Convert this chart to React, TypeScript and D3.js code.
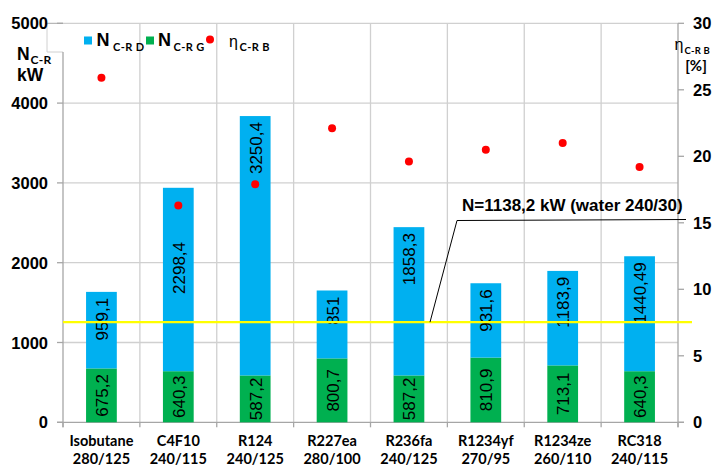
import React from "react";
import * as d3 from "d3";

const categories = ["Isobutane", "C4F10", "R124", "R227ea", "R236fa", "R1234yf", "R1234ze", "RC318"];
const conditions = ["280/125", "240/115", "240/125", "280/100", "240/125", "270/95", "260/110", "240/115"];
const nG = [675.2, 640.3, 587.2, 800.7, 587.2, 810.9, 713.1, 640.3];
const nD = [959.1, 2298.4, 3250.4, 851, 1858.3, 931.6, 1183.9, 1440.49];
const nDLabels = ["959,1", "2298,4", "3250,4", "851", "1858,3", "931,6", "1183,9", "1440,49"];
const nGLabels = ["675,2", "640,3", "587,2", "800,7", "587,2", "810,9", "713,1", "640,3"];
const eta = [25.9, 16.3, 17.9, 22.1, 19.6, 20.5, 21.0, 19.2];
const leftTicks = [0, 1000, 2000, 3000, 4000, 5000];
const rightTicks = [0, 5, 10, 15, 20, 25, 30];
const waterLine = 1255;
const waterLabel = "N=1138,2 kW (water 240/30)";
// value at which the top of the D label sits (null -> inside end)
const dLabelTop: (number | null)[] = [null, 2260, null, null, null, null, null, null];

const W = 714, H = 467;
const L = 63, R = 678, T = 23.3, B = 422.3;

export default function App() {
  const x = d3.scaleBand<string>().domain(categories).range([L, R]).padding(0);
  const yL = d3.scaleLinear().domain([0, 5000]).range([B, T]);
  const yR = d3.scaleLinear().domain([0, 30]).range([B, T]);
  const bw = x.bandwidth() * 0.4;
  const grid = "#d0d0d0";
  const axis = "#a6a6a6";
  const arial = "'Liberation Sans', Arial, sans-serif";
  const cal = "Lato, 'Open Sans', sans-serif";
  const boundaries = categories.map((c) => x(c)!).concat([R]);

  return (
    <svg width={W} height={H} style={{ position: "absolute", left: 0, top: 0, background: "#fff" }}>
      <rect width={W} height={H} fill="#fff" />
      {leftTicks.filter((t) => t > 0).map((t) => (
        <line key={"hg" + t} x1={L} x2={R} y1={yL(t)} y2={yL(t)} stroke={grid} strokeWidth={1.3} />
      ))}
      {boundaries.slice(1, -1).map((bx, i) => (
        <line key={"vg" + i} x1={bx} x2={bx} y1={T} y2={B} stroke={grid} strokeWidth={1.3} />
      ))}
      <path d={`M${L - 16},${T} L${L - 16},${52} L${L},${52}`} fill="none" stroke={grid} strokeWidth={1} />
      <line x1={L} x2={L} y1={52} y2={B + 5} stroke={axis} strokeWidth={1.3} />
      <line x1={R} x2={R} y1={T} y2={B + 5} stroke={axis} strokeWidth={1.3} />
      <line x1={L - 18} x2={L} y1={T} y2={T} stroke={axis} strokeWidth={1} />
      <line x1={L - 6} x2={R + 6} y1={B} y2={B} stroke={axis} strokeWidth={1.3} />
      {leftTicks.map((t) => (
        <g key={"lt" + t}>
          <line x1={L - 6} x2={L} y1={yL(t)} y2={yL(t)} stroke={axis} strokeWidth={1.3} />
          <text x={48} y={yL(t) + 6} textAnchor="end" fontFamily={arial} fontWeight="bold" fontSize={16.5} fill="#000">{t}</text>
        </g>
      ))}
      {rightTicks.map((t) => (
        <g key={"rt" + t}>
          <line x1={R} x2={R + 6} y1={yR(t)} y2={yR(t)} stroke={axis} strokeWidth={1.3} />
          <text x={693} y={yR(t) + 6} textAnchor="start" fontFamily={arial} fontWeight="bold" fontSize={16.5} fill="#000">{t}</text>
        </g>
      ))}
      {boundaries.map((bx, i) => (
        <line key={"bt" + i} x1={bx} x2={bx} y1={B} y2={B + 5} stroke={axis} strokeWidth={1.3} />
      ))}
      {categories.map((c, i) => {
        const cx = x(c)! + x.bandwidth() / 2;
        const top = nG[i] + nD[i];
        const dTopY = dLabelTop[i] != null ? yL(dLabelTop[i]!) : yL(top) + 6;
        const gMid = (yL(0) + yL(nG[i])) / 2;
        return (
          <g key={c}>
            <rect x={cx - bw / 2} width={bw} y={yL(nG[i])} height={yL(0) - yL(nG[i])} fill="#00B050" />
            <rect x={cx - bw / 2} width={bw} y={yL(top)} height={yL(nG[i]) - yL(top)} fill="#00B0F0" />
            <text transform={`translate(${cx + 1},${dTopY}) rotate(-90)`} textAnchor="end" dominantBaseline="central"
              fontFamily={arial} fontSize={17} fill="#000">{nDLabels[i]}</text>
            <text transform={`translate(${cx + 1},${gMid}) rotate(-90)`} textAnchor="middle" dominantBaseline="central"
              fontFamily={arial} fontSize={17} fill="#000">{nGLabels[i]}</text>
            <text x={cx} y={446} textAnchor="middle" fontFamily={cal} fontWeight="bold" fontSize={14.5} fill="#000">{c}</text>
            <text x={cx} y={464} textAnchor="middle" fontFamily={cal} fontWeight="bold" fontSize={14.5} fill="#000">{conditions[i]}</text>
          </g>
        );
      })}
      {categories.map((c, i) => (
        <circle key={"d" + c} cx={x(c)! + x.bandwidth() / 2} cy={yR(eta[i])} r={4} fill="#FF0000" />
      ))}
      <line x1={L} x2={692} y1={yL(waterLine)} y2={yL(waterLine)} stroke="#FFFF00" strokeWidth={2.2} />
      <path d={`M430,${yL(waterLine)} L457,220.5 L686,219.5`} fill="none" stroke="#000" strokeWidth={1} />
      <text x={462} y={211} fontFamily={arial} fontWeight="bold" fontSize={17} fill="#000">{waterLabel}</text>
      {/* legend */}
      <rect x={84} y={36.5} width={8} height={8} fill="#00B0F0" />
      <text x={96.5} y={45.5} fontFamily={arial} fontWeight="bold" fontSize={18} fill="#000">N</text>
      <text x={113} y={50.5} fontFamily={cal} fontWeight="bold" fontSize={11} letterSpacing={0.4} fill="#000">C-R D</text>
      <rect x={146} y={36.5} width={8} height={8} fill="#00B050" />
      <text x={158} y={45.5} fontFamily={arial} fontWeight="bold" fontSize={18} fill="#000">N</text>
      <text x={173.5} y={50.5} fontFamily={cal} fontWeight="bold" fontSize={11} letterSpacing={0.4} fill="#000">C-R G</text>
      <circle cx={210} cy={39.5} r={4} fill="#FF0000" />
      <text x={229} y={47} fontFamily={arial} fontSize={16} fill="#000">η</text>
      <text x={239.5} y={50.5} fontFamily={cal} fontWeight="bold" fontSize={11} letterSpacing={0.4} fill="#000">C-R B</text>
      {/* left axis title */}
      <text x={17} y={60} fontFamily={arial} fontWeight="bold" fontSize={17.5} fill="#000">N</text>
      <text x={30.5} y={64} fontFamily={cal} fontWeight="bold" fontSize={12} letterSpacing={0.3} fill="#000">C-R</text>
      <text x={17} y={81} fontFamily={arial} fontWeight="bold" fontSize={17.5} fill="#000">kW</text>
      {/* right axis title */}
      <text x={674.5} y={50} fontFamily={arial} fontSize={16} fill="#000">η</text>
      <text x={684.5} y={53.5} fontFamily={cal} fontWeight="bold" fontSize={9.5} letterSpacing={0.2} fill="#000">C-R B</text>
      <text x={696} y={71} textAnchor="middle" fontFamily={cal} fontWeight="bold" fontSize={15} fill="#000">[%]</text>
    </svg>
  );
}
